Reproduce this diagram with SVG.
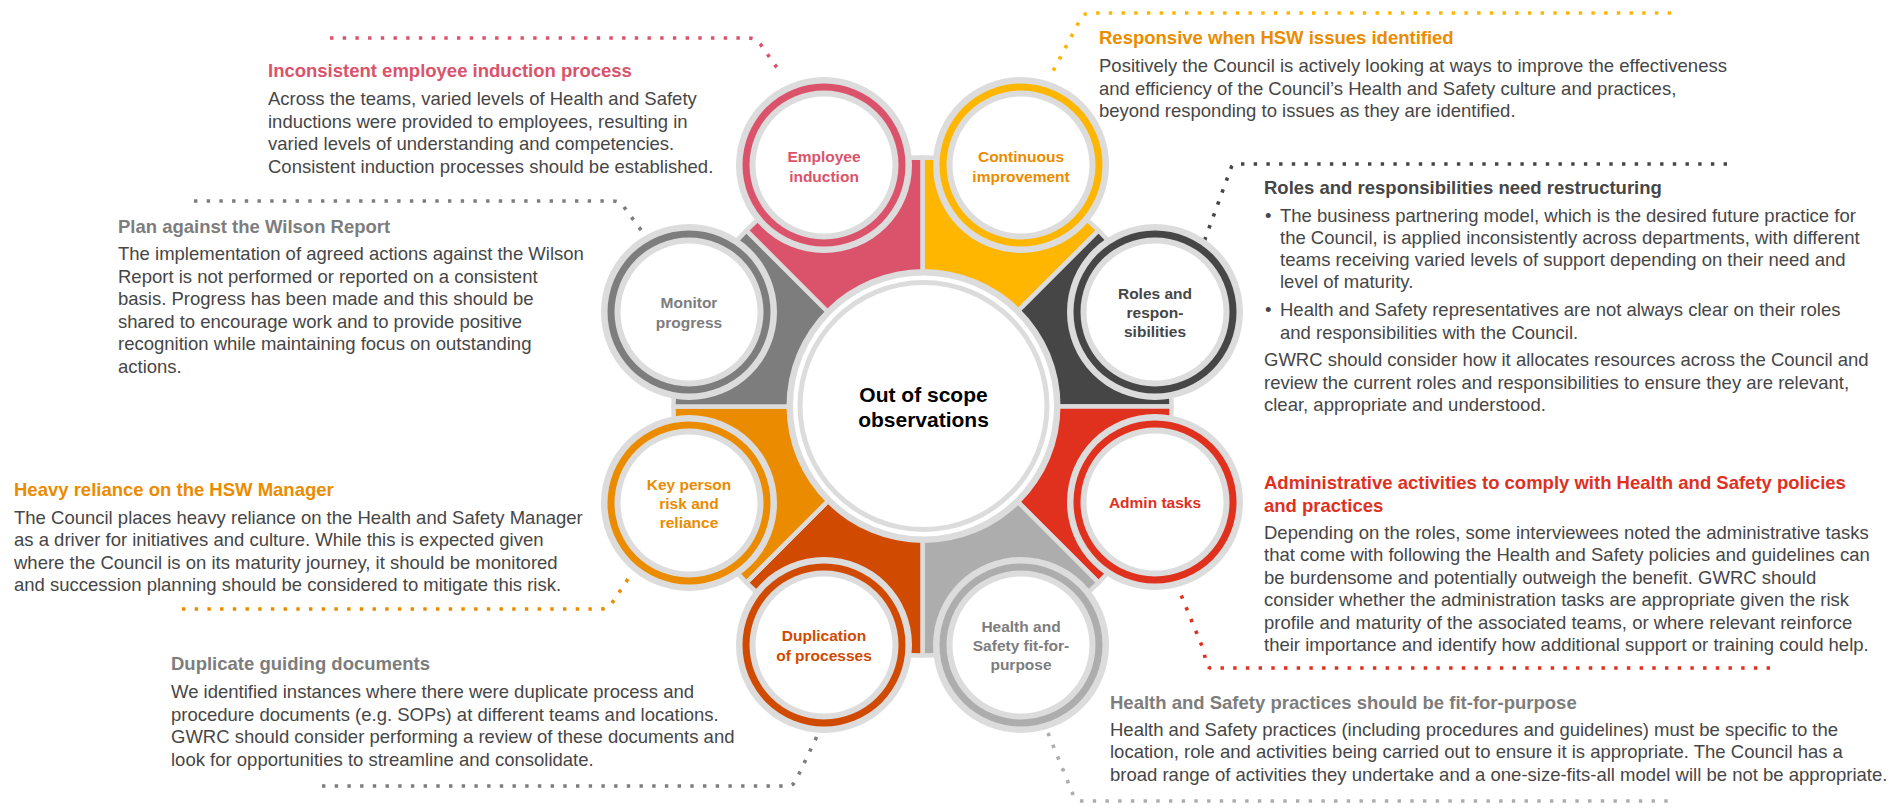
<svg xmlns="http://www.w3.org/2000/svg" width="1892" height="810" viewBox="0 0 1892 810">
  <defs>
    <style>
      text { font-family: "Liberation Sans", Arial, sans-serif; }
      .wedge { stroke: #dcdcdc; stroke-width: 4.5; stroke-linejoin: round; }
      .halo { fill: #dcdcdc; }
      .inner { fill: #dcdcdc; }
      .core { fill: #ffffff; }
      .lbl { font-size: 15.5px; font-weight: bold; text-anchor: middle; }
      .title { font-size: 18.5px; font-weight: bold; }
      .body { font-size: 18.5px; fill: #464646; }
      .dots { fill: none; stroke-width: 3.6; stroke-dasharray: 3.4 9.3; stroke-linecap: butt; }
      .rose { fill: #db536a; }
      .tang { fill: #eb8c00; }
      .yell { fill: #ffb600; }
      .dark { fill: #464646; }
      .red { fill: #e0301e; }
      .lgry { fill: #adadad; }
      .orng { fill: #d04a02; }
      .mgry { fill: #7d7d7d; }
    </style>
  </defs>

  <rect width="1892" height="810" fill="#ffffff"/>

  <!-- petals radiating from the hub -->
  <g id="petals">
    <path class="wedge yell" d="M922.5 406.5 L922.5 157.5 A249 249 0 0 1 1098.57 230.43 Z"/>
    <path class="wedge dark" d="M922.5 406.5 L1098.57 230.43 A249 249 0 0 1 1171.5 406.5 Z"/>
    <path class="wedge red" d="M922.5 406.5 L1171.5 406.5 A249 249 0 0 1 1098.57 582.57 Z"/>
    <path class="wedge lgry" d="M922.5 406.5 L1098.57 582.57 A249 249 0 0 1 922.5 655.5 Z"/>
    <path class="wedge orng" d="M922.5 406.5 L922.5 655.5 A249 249 0 0 1 746.43 582.57 Z"/>
    <path class="wedge tang" d="M922.5 406.5 L746.43 582.57 A249 249 0 0 1 673.5 406.5 Z"/>
    <path class="wedge mgry" d="M922.5 406.5 L673.5 406.5 A249 249 0 0 1 746.43 230.43 Z"/>
    <path class="wedge rose" d="M922.5 406.5 L746.43 230.43 A249 249 0 0 1 922.5 157.5 Z"/>
  </g>

  <!-- dotted leader lines -->
  <g id="connectors">
    <path class="dots" stroke="#db536a" d="M330 38 H748 Q756 38 761 45 L780 72"/>
    <path class="dots" stroke="#7d7d7d" d="M194 201 H612 Q620 201 624 207 L644 234"/>
    <path class="dots" stroke="#eb8c00" d="M182 609 H600 Q608 609 612 603 L630 576"/>
    <path class="dots" stroke="#7d7d7d" d="M322 786 H788 Q794 786 797 778 L819 732"/>
    <path class="dots" stroke="#ffb600" d="M1671 13 H1090 Q1084 13 1081 18 L1051 75"/>
    <path class="dots" stroke="#464646" d="M1727 164 H1236 Q1232 164 1231 168 L1204 242"/>
    <path class="dots" stroke="#e0301e" d="M1770 668 H1210 Q1206 666 1204 651 L1179 590"/>
    <path class="dots" stroke="#adadad" d="M1048 733 L1072 792 Q1075 801 1082 801 H1671"/>
  </g>

  <!-- hub -->
  <g id="node-hub">
    <circle cx="923.5" cy="406" r="137" class="halo"/>
    <circle cx="923.5" cy="406" r="130.5" class="core"/>
    <circle cx="923.5" cy="406" r="126" class="inner"/>
    <circle cx="923.5" cy="406" r="121" class="core"/>
    <text x="923.5" y="402" text-anchor="middle" font-size="21" font-weight="bold" fill="#000000">Out of scope</text>
    <text x="923.5" y="427" text-anchor="middle" font-size="21" font-weight="bold" fill="#000000">observations</text>
  </g>

  <g id="node-employee-induction">
    <circle cx="824" cy="165" r="88" class="halo"/>
    <circle cx="824" cy="165" r="81.5" class="rose"/>
    <circle cx="824" cy="165" r="74.5" class="inner"/>
    <circle cx="824" cy="165" r="68.5" class="core"/>
    <text class="lbl rose" x="824" y="162">Employee</text>
    <text class="lbl rose" x="824" y="181.5">induction</text>
  </g>

  <g id="node-continuous-improvement">
    <circle cx="1021" cy="165" r="88" class="halo"/>
    <circle cx="1021" cy="165" r="81.5" class="yell"/>
    <circle cx="1021" cy="165" r="74.5" class="inner"/>
    <circle cx="1021" cy="165" r="68.5" class="core"/>
    <text class="lbl tang" x="1021" y="162">Continuous</text>
    <text class="lbl tang" x="1021" y="181.5">improvement</text>
  </g>

  <g id="node-monitor-progress">
    <circle cx="689" cy="312" r="88" class="halo"/>
    <circle cx="689" cy="312" r="81.5" class="mgry"/>
    <circle cx="689" cy="312" r="74.5" class="inner"/>
    <circle cx="689" cy="312" r="68.5" class="core"/>
    <text class="lbl mgry" x="689" y="308">Monitor</text>
    <text class="lbl mgry" x="689" y="327.5">progress</text>
  </g>

  <g id="node-roles">
    <circle cx="1155" cy="312" r="88" class="halo"/>
    <circle cx="1155" cy="312" r="81.5" class="dark"/>
    <circle cx="1155" cy="312" r="74.5" class="inner"/>
    <circle cx="1155" cy="312" r="68.5" class="core"/>
    <text class="lbl dark" x="1155" y="299">Roles and</text>
    <text class="lbl dark" x="1155" y="318">respon-</text>
    <text class="lbl dark" x="1155" y="337">sibilities</text>
  </g>

  <g id="node-key-person">
    <circle cx="689" cy="503" r="88" class="halo"/>
    <circle cx="689" cy="503" r="81.5" class="tang"/>
    <circle cx="689" cy="503" r="74.5" class="inner"/>
    <circle cx="689" cy="503" r="68.5" class="core"/>
    <text class="lbl tang" x="689" y="490">Key person</text>
    <text class="lbl tang" x="689" y="509">risk and</text>
    <text class="lbl tang" x="689" y="528">reliance</text>
  </g>

  <g id="node-admin-tasks">
    <circle cx="1155" cy="502" r="88" class="halo"/>
    <circle cx="1155" cy="502" r="81.5" class="red"/>
    <circle cx="1155" cy="502" r="74.5" class="inner"/>
    <circle cx="1155" cy="502" r="68.5" class="core"/>
    <text class="lbl red" x="1155" y="507.5">Admin tasks</text>
  </g>

  <g id="node-duplication">
    <circle cx="824" cy="645" r="88" class="halo"/>
    <circle cx="824" cy="645" r="81.5" class="orng"/>
    <circle cx="824" cy="645" r="74.5" class="inner"/>
    <circle cx="824" cy="645" r="68.5" class="core"/>
    <text class="lbl orng" x="824" y="641">Duplication</text>
    <text class="lbl orng" x="824" y="660.5">of processes</text>
  </g>

  <g id="node-fit-for-purpose">
    <circle cx="1021" cy="645" r="88" class="halo"/>
    <circle cx="1021" cy="645" r="81.5" class="lgry"/>
    <circle cx="1021" cy="645" r="74.5" class="inner"/>
    <circle cx="1021" cy="645" r="68.5" class="core"/>
    <text class="lbl mgry" x="1021" y="631.5">Health and</text>
    <text class="lbl mgry" x="1021" y="650.5">Safety fit-for-</text>
    <text class="lbl mgry" x="1021" y="669.5">purpose</text>
  </g>

  <!-- observation notes -->
  <g id="note-induction">
    <text class="title rose" x="268" y="77">Inconsistent employee induction process</text>
    <text class="body">
      <tspan x="268" y="105">Across the teams, varied levels of Health and Safety</tspan>
      <tspan x="268" y="127.5">inductions were provided to employees, resulting in</tspan>
      <tspan x="268" y="150">varied levels of understanding and competencies.</tspan>
      <tspan x="268" y="172.5">Consistent induction processes should be established.</tspan>
    </text>
  </g>

  <g id="note-wilson">
    <text class="title mgry" x="118" y="232.5">Plan against the Wilson Report</text>
    <text class="body">
      <tspan x="118" y="260">The implementation of agreed actions against the Wilson</tspan>
      <tspan x="118" y="282.5">Report is not performed or reported on a consistent</tspan>
      <tspan x="118" y="305">basis. Progress has been made and this should be</tspan>
      <tspan x="118" y="327.5">shared to encourage work and to provide positive</tspan>
      <tspan x="118" y="350">recognition while maintaining focus on outstanding</tspan>
      <tspan x="118" y="372.5">actions.</tspan>
    </text>
  </g>

  <g id="note-reliance">
    <text class="title tang" x="14" y="496">Heavy reliance on the HSW Manager</text>
    <text class="body">
      <tspan x="14" y="523.5">The Council places heavy reliance on the Health and Safety Manager</tspan>
      <tspan x="14" y="546">as a driver for initiatives and culture. While this is expected given</tspan>
      <tspan x="14" y="568.5">where the Council is on its maturity journey, it should be monitored</tspan>
      <tspan x="14" y="591">and succession planning should be considered to mitigate this risk.</tspan>
    </text>
  </g>

  <g id="note-duplicates">
    <text class="title mgry" x="171" y="670">Duplicate guiding documents</text>
    <text class="body">
      <tspan x="171" y="698">We identified instances where there were duplicate process and</tspan>
      <tspan x="171" y="720.5">procedure documents (e.g. SOPs) at different teams and locations.</tspan>
      <tspan x="171" y="743">GWRC should consider performing a review of these documents and</tspan>
      <tspan x="171" y="765.5">look for opportunities to streamline and consolidate.</tspan>
    </text>
  </g>

  <g id="note-responsive">
    <text class="title tang" x="1099" y="43.5">Responsive when HSW issues identified</text>
    <text class="body">
      <tspan x="1099" y="72">Positively the Council is actively looking at ways to improve the effectiveness</tspan>
      <tspan x="1099" y="94.5">and efficiency of the Council’s Health and Safety culture and practices,</tspan>
      <tspan x="1099" y="117">beyond responding to issues as they are identified.</tspan>
    </text>
  </g>

  <g id="note-roles">
    <text class="title dark" x="1264" y="193.5">Roles and responsibilities need restructuring</text>
    <text class="body">
      <tspan x="1265" y="221.5">•</tspan>
      <tspan x="1280" y="221.5">The business partnering model, which is the desired future practice for</tspan>
      <tspan x="1280" y="243.5">the Council, is applied inconsistently across departments, with different</tspan>
      <tspan x="1280" y="265.5">teams receiving varied levels of support depending on their need and</tspan>
      <tspan x="1280" y="287.5">level of maturity.</tspan>
      <tspan x="1265" y="316">•</tspan>
      <tspan x="1280" y="316">Health and Safety representatives are not always clear on their roles</tspan>
      <tspan x="1280" y="338.5">and responsibilities with the Council.</tspan>
      <tspan x="1264" y="366">GWRC should consider how it allocates resources across the Council and</tspan>
      <tspan x="1264" y="388.5">review the current roles and responsibilities to ensure they are relevant,</tspan>
      <tspan x="1264" y="411">clear, appropriate and understood.</tspan>
    </text>
  </g>

  <g id="note-admin">
    <text class="title red">
      <tspan x="1264" y="488.5">Administrative activities to comply with Health and Safety policies</tspan>
      <tspan x="1264" y="511.5">and practices</tspan>
    </text>
    <text class="body">
      <tspan x="1264" y="538.5">Depending on the roles, some interviewees noted the administrative tasks</tspan>
      <tspan x="1264" y="561">that come with following the Health and Safety policies and guidelines can</tspan>
      <tspan x="1264" y="583.5">be burdensome and potentially outweigh the benefit. GWRC should</tspan>
      <tspan x="1264" y="606">consider whether the administration tasks are appropriate given the risk</tspan>
      <tspan x="1264" y="628.5">profile and maturity of the associated teams, or where relevant reinforce</tspan>
      <tspan x="1264" y="651">their importance and identify how additional support or training could help.</tspan>
    </text>
  </g>

  <g id="note-fit-for-purpose">
    <text class="title mgry" x="1110" y="708.5">Health and Safety practices should be fit-for-purpose</text>
    <text class="body">
      <tspan x="1110" y="735.5">Health and Safety practices (including procedures and guidelines) must be specific to the</tspan>
      <tspan x="1110" y="758">location, role and activities being carried out to ensure it is appropriate. The Council has a</tspan>
      <tspan x="1110" y="780.5">broad range of activities they undertake and a one-size-fits-all model will be not be appropriate.</tspan>
    </text>
  </g>
</svg>
